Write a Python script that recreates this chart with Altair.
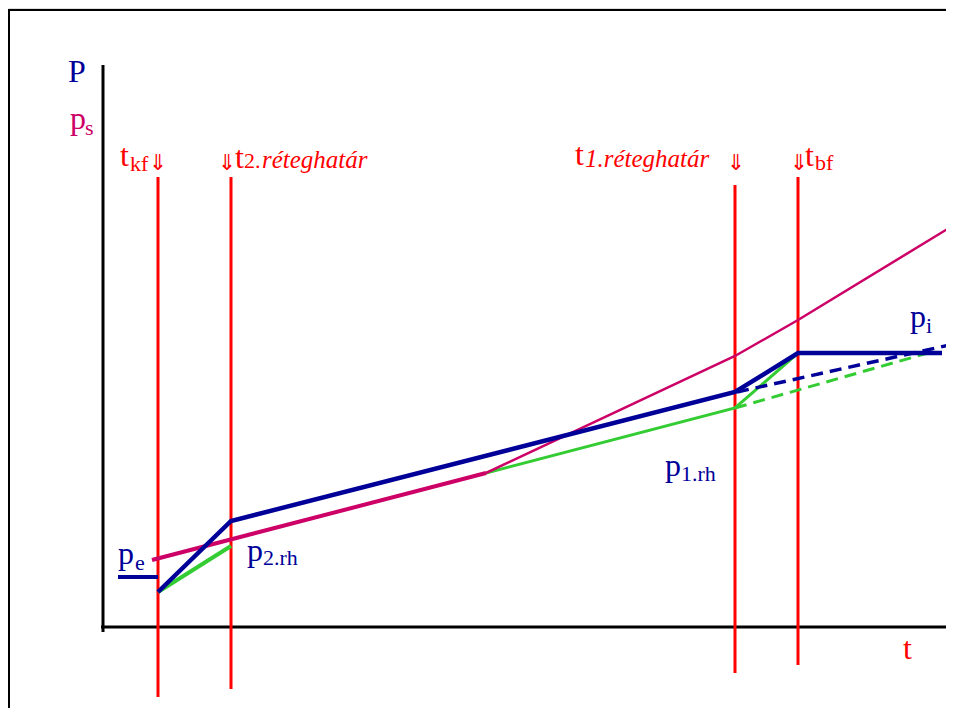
import altair as alt
import pandas as pd

BLUE = "#000099"
PINK = "#cc0066"
GREEN = "#33cc33"
RED = "#ff0000"

# ---- data (t: time units, p: pressure units; origin = axis crossing) ----
marker_t = [55, 128, 632, 695]          # t_kf, t_2.réteghatár, t_1.réteghatár, t_bf
marker_top = [450, 450, 442, 450]
marker_bottom = [-70, -62, -46, -38]

ps_thick_t = [49, 383]
ps_thick_p = [67, 154]
ps_thin_t = [383, 632, 695, 851]
ps_thin_p = [154, 271, 307, 402]

P_t = [55, 128, 632, 695, 839]
P_p = [35, 106, 235, 274, 274]
pe_t = [15, 55]
pe_p = [50, 50]
P_dash_t = [634, 851]
P_dash_p = [235, 283]

green_thick_t = [55, 128]
green_thick_p = [35, 81]
green_thin_t = [383, 632, 695]
green_thin_p = [154, 219, 274]
green_dash_t = [632, 825]
green_dash_p = [219, 274]

# labels
lab_text = ["P", "p", "s",
            "t", "kf",
            "t", "2.", "réteghatár",
            "t", "1.réteghatár",
            "t", "bf",
            "p", "e", "p", "2.rh", "p", "1.rh", "p", "i",
            "t"]
lab_t = [-35, -33, -18,
         17, 27,
         132, 141, 159,
         472, 482,
         702, 712,
         15, 32, 144, 160, 562, 578, 807, 823,
         800]
lab_p = [545, 498, 492,
         461, 456,
         459, 459, 459,
         462, 460,
         461, 457,
         63, 57, 66, 62, 151, 146, 300, 294,
         -32]
lab_size = [32, 32, 22,
            32, 22,
            32, 22, 25,
            32, 25,
            32, 22,
            32, 22, 32, 22, 32, 22, 32, 22,
            32]
lab_color = [BLUE, PINK, PINK] + [RED] * 9 + [BLUE] * 8 + [RED]
lab_kind = ["n", "n", "n",
            "n", "n",
            "n", "n", "i",
            "n", "i",
            "n", "n",
            "n", "n", "n", "n", "n", "n", "n", "n",
            "n"]

# downward double arrows above the marker lines
arrow_t = [55, 124, 633, 696]
arrow_p = [465, 465, 465, 465]

XS = alt.Scale(domain=[-95, 843], nice=False, zero=False)
YS = alt.Scale(domain=[-81, 619], nice=False, zero=False)


def X(f="t"):
    return alt.X(f"{f}:Q", scale=XS, axis=None)


def Y(f="p"):
    return alt.Y(f"{f}:Q", scale=YS, axis=None)


def line(ts, ps, color, width, dash=None):
    df = pd.DataFrame({"t": ts, "p": ps, "i": range(len(ts))})
    kw = dict(color=color, strokeWidth=width, strokeCap="butt", strokeJoin="miter")
    if dash:
        kw["strokeDash"] = dash
    return alt.Chart(df).mark_line(**kw).encode(x=X(), y=Y(), order="i:O")


markers = pd.DataFrame({"t": marker_t, "top": marker_top, "bottom": marker_bottom})
red_rules = alt.Chart(markers).mark_rule(color=RED, strokeWidth=3).encode(
    x=X(), y=Y("top"), y2="bottom:Q")

axes_df = pd.DataFrame({"t": [0, -2], "t2": [0, 851], "p": [-5, 0], "p2": [562, 0]})
axes = alt.Chart(axes_df).mark_rule(color="black", strokeWidth=3).encode(
    x=X(), x2="t2:Q", y=Y(), y2="p2:Q")

frame_top = alt.Chart(pd.DataFrame({"a": [0]})).mark_rule(color="black", strokeWidth=2).encode(
    x=alt.value(1), x2=alt.value(960), y=alt.value(2))
frame_left = alt.Chart(pd.DataFrame({"a": [0]})).mark_rule(color="black", strokeWidth=2).encode(
    x=alt.value(1), y=alt.value(1), y2=alt.value(720))

labels = pd.DataFrame({"t": lab_t, "p": lab_p, "text": lab_text, "size": lab_size,
                       "color": lab_color, "kind": lab_kind})


def text_layer(kind, style):
    return alt.Chart(labels[labels.kind == kind]).mark_text(
        align="left", baseline="alphabetic", font="Liberation Serif", fontStyle=style).encode(
        x=X(), y=Y(), text="text:N",
        size=alt.Size("size:Q", scale=None),
        color=alt.Color("color:N", scale=None))


arrows = alt.Chart(pd.DataFrame({"t": arrow_t, "p": arrow_p, "a": ["⇒"] * 4})).mark_text(
    align="center", baseline="middle", font="DejaVu Sans", fontSize=22, angle=90, color=RED
).encode(x=X(), y=Y(), text="a:N")

chart = alt.layer(
    frame_top, frame_left,
    axes,
    red_rules,
    line(green_thin_t, green_thin_p, GREEN, 3),
    line(green_thick_t, green_thick_p, GREEN, 4),
    line(green_dash_t, green_dash_p, GREEN, 3, [12, 7]),
    line(ps_thin_t, ps_thin_p, PINK, 2.5),
    line(ps_thick_t, ps_thick_p, PINK, 4),
    line(pe_t, pe_p, BLUE, 4),
    line(P_t, P_p, BLUE, 4.5),
    line(P_dash_t, P_dash_p, BLUE, 3.5, [12, 7]),
    text_layer("n", "normal"),
    text_layer("i", "italic"),
    arrows,
).properties(
    width=938, height=700,
    autosize=alt.AutoSizeParams(type="none"),
    padding=0,
).configure_view(strokeWidth=0, stroke="transparent").configure(background="white")

chart.save("out.html", embed_options={"renderer": "svg", "actions": False})
